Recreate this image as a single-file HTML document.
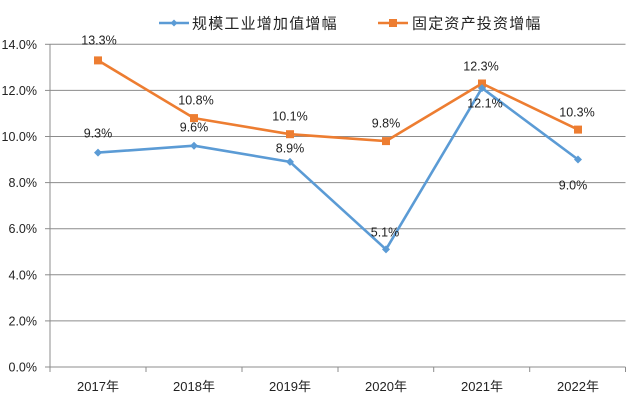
<!DOCTYPE html>
<html><head><meta charset="utf-8"><style>
html,body{margin:0;padding:0;background:#fff;}
svg{display:block;}
text{font-family:"Liberation Sans","Noto Sans CJK SC",sans-serif;fill:#222;}
</style></head><body>
<svg width="640" height="406" viewBox="0 0 640 406" xmlns="http://www.w3.org/2000/svg">
<rect width="640" height="406" fill="#fff"/>
<g stroke="#8c8c8c" stroke-width="1">
<line x1="50" y1="44.3" x2="625.5" y2="44.3"/>
<line x1="50" y1="90.4" x2="625.5" y2="90.4"/>
<line x1="50" y1="136.5" x2="625.5" y2="136.5"/>
<line x1="50" y1="182.6" x2="625.5" y2="182.6"/>
<line x1="50" y1="228.7" x2="625.5" y2="228.7"/>
<line x1="50" y1="274.8" x2="625.5" y2="274.8"/>
<line x1="50" y1="320.9" x2="625.5" y2="320.9"/>
<line x1="50" y1="367" x2="625.5" y2="367"/>
<line x1="50" y1="44.3" x2="50" y2="367"/>
<line x1="45" y1="44.3" x2="50" y2="44.3"/>
<line x1="45" y1="90.4" x2="50" y2="90.4"/>
<line x1="45" y1="136.5" x2="50" y2="136.5"/>
<line x1="45" y1="182.6" x2="50" y2="182.6"/>
<line x1="45" y1="228.7" x2="50" y2="228.7"/>
<line x1="45" y1="274.8" x2="50" y2="274.8"/>
<line x1="45" y1="320.9" x2="50" y2="320.9"/>
<line x1="45" y1="367" x2="50" y2="367"/>
<line x1="50" y1="367" x2="50" y2="372"/>
<line x1="146" y1="367" x2="146" y2="372"/>
<line x1="242" y1="367" x2="242" y2="372"/>
<line x1="338" y1="367" x2="338" y2="372"/>
<line x1="433.7" y1="367" x2="433.7" y2="372"/>
<line x1="529.7" y1="367" x2="529.7" y2="372"/>
<line x1="625.5" y1="367" x2="625.5" y2="372"/>
</g>
<g font-size="12.5" text-anchor="end">
<text x="37" y="48.8">14.0%</text>
<text x="37" y="94.9">12.0%</text>
<text x="37" y="141">10.0%</text>
<text x="37" y="187.1">8.0%</text>
<text x="37" y="233.2">6.0%</text>
<text x="37" y="279.3">4.0%</text>
<text x="37" y="325.4">2.0%</text>
<text x="37" y="371.5">0.0%</text>
</g>
<g font-size="13" text-anchor="middle">
<text x="98" y="391">2017年</text>
<text x="194" y="391">2018年</text>
<text x="290" y="391">2019年</text>
<text x="386" y="391">2020年</text>
<text x="482" y="391">2021年</text>
<text x="578" y="391">2022年</text>
</g>
<polyline fill="none" stroke="#ED7D31" stroke-width="2.6" stroke-linejoin="round" points="98,60.4 194,118.1 290,134.2 386,141.1 482,83.5 578,129.6"/>
<g fill="#ED7D31">
<rect x="94" y="56.4" width="8" height="8"/>
<rect x="190" y="114.1" width="8" height="8"/>
<rect x="286" y="130.2" width="8" height="8"/>
<rect x="382" y="137.1" width="8" height="8"/>
<rect x="478" y="79.5" width="8" height="8"/>
<rect x="574" y="125.6" width="8" height="8"/>
</g>
<polyline fill="none" stroke="#5B9BD5" stroke-width="2.6" stroke-linejoin="round" points="98,152.6 194,145.7 290,161.9 386,249.4 482,88.1 578,159.5"/>
<g fill="#5B9BD5">
<path d="M98 148.6 L102 152.6 L98 156.6 L94 152.6Z"/>
<path d="M194 141.7 L198 145.7 L194 149.7 L190 145.7Z"/>
<path d="M290 157.9 L294 161.9 L290 165.9 L286 161.9Z"/>
<path d="M386 245.4 L390 249.4 L386 253.4 L382 249.4Z"/>
<path d="M482 84.1 L486 88.1 L482 92.1 L478 88.1Z"/>
<path d="M578 155.5 L582 159.5 L578 163.5 L574 159.5Z"/>
</g>
<g font-size="12.5" text-anchor="middle">
<text x="99" y="44.5">13.3%</text>
<text x="196" y="104.5">10.8%</text>
<text x="290" y="120.5">10.1%</text>
<text x="386" y="127.5">9.8%</text>
<text x="481" y="70.5">12.3%</text>
<text x="577" y="116.5">10.3%</text>
<text x="98" y="137.5">9.3%</text>
<text x="194" y="131.5">9.6%</text>
<text x="290" y="152.5">8.9%</text>
<text x="385" y="236.5">5.1%</text>
<text x="485" y="107.5">12.1%</text>
<text x="573" y="189.5">9.0%</text>
</g>
<line x1="159" y1="23" x2="189" y2="23" stroke="#5B9BD5" stroke-width="2.6"/>
<path d="M174 19.5 L177.5 23 L174 26.5 L170.5 23Z" fill="#5B9BD5"/>
<text x="192" y="28.5" font-size="15" letter-spacing="1.2">规模工业增加值增幅</text>
<line x1="378" y1="23" x2="408" y2="23" stroke="#ED7D31" stroke-width="2.6"/>
<rect x="389" y="19" width="8" height="8" fill="#ED7D31"/>
<text x="412" y="28.5" font-size="15" letter-spacing="1.2">固定资产投资增幅</text>
</svg>
</body></html>
